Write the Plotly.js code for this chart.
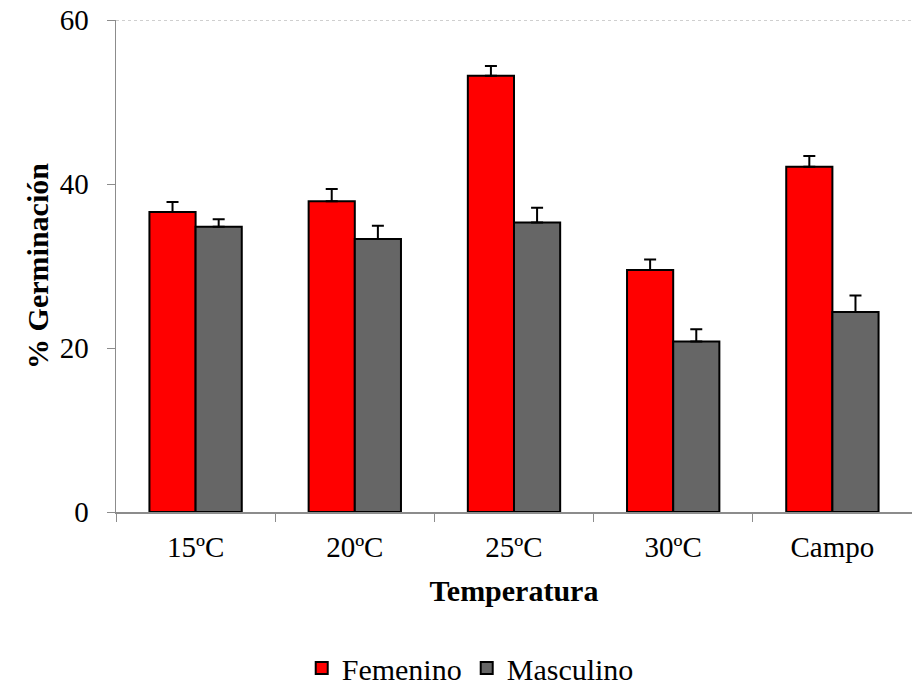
<!DOCTYPE html>
<html>
<head>
<meta charset="utf-8">
<script src="https://cdn.plot.ly/plotly-3.0.1.min.js"></script>
<style>html,body{margin:0;padding:0;background:#fff;}#chart{width:912px;height:686px;}
#chart .legendtext{font-family:"Liberation Serif", serif !important;}</style>
</head>
<body>
<div id="chart"></div>
<script>
var categories = ["15ºC", "20ºC", "25ºC", "30ºC", "Campo"];
var seriesNames = ["Femenino", "Masculino"];
var femenino = [36.6, 37.9, 53.2, 29.5, 42.1];
var femeninoErr = [1.2, 1.5, 1.2, 1.3, 1.3];
var masculino = [34.8, 33.3, 35.3, 20.8, 24.4];
var masculinoErr = [0.9, 1.6, 1.8, 1.5, 2.0];
var yTicks = [0, 20, 40, 60];

var font = "Liberation Serif";

var traces = [
  {
    type: "bar", name: seriesNames[0], x: categories, y: femenino,
    marker: {color: "#ff0000", line: {color: "#000000", width: 2}},
    error_y: {type: "data", array: femeninoErr, symmetric: false, arrayminus: [0,0,0,0,0], color: "#000000", thickness: 2, width: 6}
  },
  {
    type: "bar", name: seriesNames[1], x: categories, y: masculino,
    marker: {color: "#666666", line: {color: "#000000", width: 2}},
    error_y: {type: "data", array: masculinoErr, symmetric: false, arrayminus: [0,0,0,0,0], color: "#000000", thickness: 2, width: 6}
  }
];

var layout = {
  width: 912, height: 686,
  margin: {l: 116, r: 0, t: 20, b: 174, autoexpand: false},
  paper_bgcolor: "#ffffff", plot_bgcolor: "#ffffff",
  font: {family: font, size: 29, color: "#000000"},
  barmode: "group", bargap: 0.42, bargroupgap: 0,
  showlegend: true,
  legend: {orientation: "h", x: 0.445, xanchor: "center", y: -0.317, yanchor: "middle", font: {family: font, size: 30, color: "#000000"}, itemwidth: 30, traceorder: "normal"},
  xaxis: {
    type: "category", showline: true, linecolor: "#8c8c8c", linewidth: 1.5,
    ticks: "outside", tickson: "boundaries", ticklen: 8, tickcolor: "#8c8c8c",
    showgrid: false, zeroline: false, ticklabelstandoff: 9,
    tickfont: {family: font, size: 29, color: "#000000"},
    title: {text: "<b>Temperatura</b>", font: {family: font, size: 30, color: "#000000"}, standoff: 17}
  },
  yaxis: {
    range: [0, 60], tickvals: yTicks, ticktext: yTicks.map(String),
    showline: true, linecolor: "#8c8c8c", linewidth: 1.5,
    ticks: "outside", ticklen: 8, tickcolor: "#8c8c8c",
    showgrid: false, zeroline: false, ticklabelstandoff: 12,
    tickfont: {family: font, size: 29, color: "#000000"},
    title: {text: "<b>% Germinación</b>", font: {family: font, size: 30, color: "#000000"}, standoff: 2}
  },
  shapes: [
    {type: "line", xref: "paper", yref: "y", x0: 0, x1: 1, y0: 60, y1: 60, line: {color: "#a0a0a0", width: 1, dash: "dot"}}
  ]
};

Plotly.newPlot("chart", traces, layout, {displayModeBar: false, staticPlot: true}).then(function () {
  document.querySelectorAll("#chart .legendtext").forEach(function (t) {
    t.style.setProperty("font-family", "'Liberation Serif', serif", "important");
  });
});
</script>
</body>
</html>
